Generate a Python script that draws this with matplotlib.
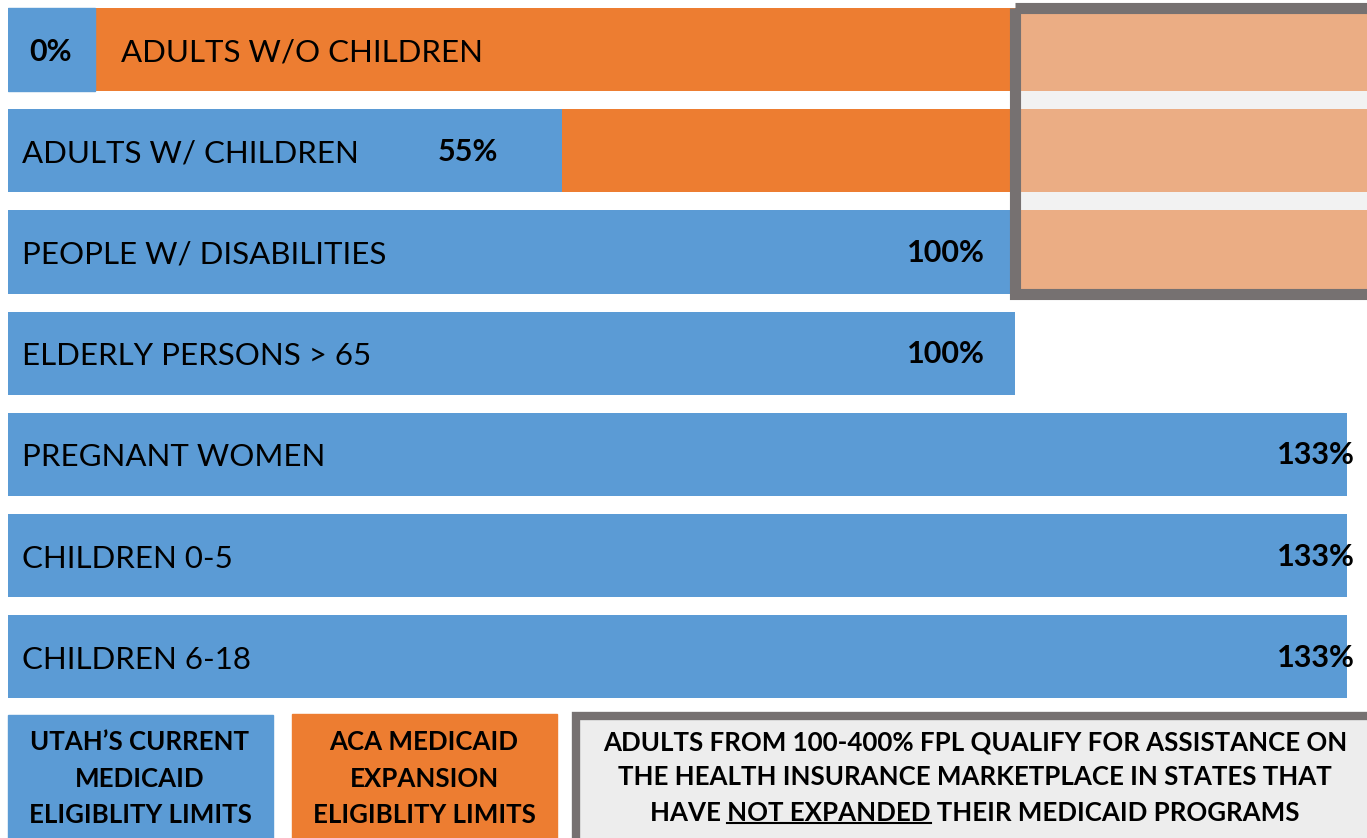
import matplotlib
matplotlib.use("Agg")
import matplotlib.pyplot as plt
from matplotlib.patches import Rectangle

# data
categories = ["ADULTS W/O CHILDREN", "ADULTS W/ CHILDREN", "PEOPLE W/ DISABILITIES",
              "ELDERLY PERSONS > 65", "PREGNANT WOMEN", "CHILDREN 0-5", "CHILDREN 6-18"]
utah_limits = [0, 55, 100, 100, 133, 133, 133]
aca_rows = [0, 1]
aca_limits = [133, 133]
market_rows = [0, 1, 2]
market_low = [100, 100, 100]
market_high = [400, 400, 400]

legend_utah = ["UTAH\u2019S CURRENT", "MEDICAID", "ELIGIBLITY LIMITS"]
legend_aca = ["ACA MEDICAID", "EXPANSION", "ELIGIBLITY LIMITS"]
legend_market = ["ADULTS FROM 100-400% FPL QUALIFY FOR ASSISTANCE ON",
                 "THE HEALTH INSURANCE MARKETPLACE IN STATES THAT",
                 "HAVE NOT EXPANDED THEIR MEDICAID PROGRAMS"]

BLUE = "#5B9BD5"
ORANGE = "#ED7D31"
LIGHT_ORANGE = "#EBAD84"
GREY = "#767171"
PALE = "#F2F2F2"

W, H = 1367, 838
plt.rcParams['font.family'] = ['Lato', 'DejaVu Sans']

fig = plt.figure(figsize=(W / 100, H / 100), dpi=100)
fig.patch.set_facecolor("white")

ax = fig.add_axes([8 / W, 0, 1 - 8 / W, 1])
ax.set_xlim(0, 135)
ax.set_ylim(7.788, -0.489)
ax.axis("off")

bar_h = 0.82
rows = list(range(len(categories)))

# ACA expansion bars (behind), then Utah's bars
ax.barh(aca_rows, aca_limits, height=bar_h, color=ORANGE, zorder=1)
ax.barh(rows, utah_limits, height=bar_h, color=BLUE, zorder=2)

# marketplace box
top = market_rows[0] - bar_h / 2
bottom = market_rows[-1] + bar_h / 2
ax.add_patch(Rectangle((market_low[0], top), 400, bottom - top,
                       facecolor=PALE, edgecolor="none", zorder=3))
ax.barh(market_rows, [h - l for l, h in zip(market_low, market_high)],
        left=market_low, height=bar_h, color=LIGHT_ORANGE, zorder=4)
ax.add_patch(Rectangle((market_low[0], top), 400, bottom - top,
                       facecolor="none", edgecolor=GREY, linewidth=8, zorder=5))

# labels
CAT_FS = 22.5
VAL_FS = 22
for i, (cat, v) in enumerate(zip(categories, utah_limits)):
    if v == 0:
        ax.add_patch(Rectangle((0, i - bar_h / 2), 8.6, bar_h, color=BLUE, zorder=2))
        ax.annotate("%d%%" % v, (0, i), xytext=(43, -2), textcoords="offset pixels",
                    ha="center", va="center", fontsize=VAL_FS, fontweight="bold",
                    zorder=6)
        ax.annotate(cat, (0, i), xytext=(113, -3), textcoords="offset pixels",
                    ha="left", va="center", fontsize=CAT_FS, zorder=6)
        continue
    ax.annotate(cat, (0, i), xytext=(14, -3), textcoords="offset pixels",
                ha="left", va="center", fontsize=CAT_FS, zorder=6)
    if v == 55:
        off = -64
    elif v == 100:
        off = -30
    else:
        off = 8
    ax.annotate("%d%%" % v, (v, i), xytext=(off, -1), textcoords="offset pixels",
                ha="right", va="center", fontsize=VAL_FS, fontweight="bold", zorder=6)

# legend boxes along the bottom, laid out in pixels
lax = fig.add_axes([0, 0, 1, 1], zorder=10)
lax.set_xlim(0, W)
lax.set_ylim(H, 0)
lax.axis("off")

lax.add_patch(Rectangle((8, 715), 265, 130, color=BLUE))
lax.add_patch(Rectangle((292, 714), 265, 130, color=ORANGE))
lax.add_patch(Rectangle((576, 716), 800, 130, facecolor="#EDEDED",
                        edgecolor=GREY, linewidth=6))

LEG_FS = 18.6
line_y = [742, 779, 815]
for s, y in zip(legend_utah, line_y):
    lax.text(140, y, s, ha="center", va="center", fontsize=LEG_FS, fontweight="bold")
for s, y in zip(legend_aca, line_y):
    lax.text(424, y, s, ha="center", va="center", fontsize=LEG_FS, fontweight="bold")
texts = []
for s, y in zip(legend_market, [742, 777, 813]):
    texts.append(lax.text(975, y, s, ha="center", va="center", fontsize=LEG_FS,
                          fontweight="bold"))

# underline "NOT EXPANDED"
fig.canvas.draw()
r = fig.canvas.get_renderer()
last = texts[-1]
bb = last.get_window_extent(r)


def width_of(s):
    t = lax.text(0, 0, s, fontsize=LEG_FS, fontweight="bold")
    w = t.get_window_extent(r).width
    t.remove()
    return w


x_end = bb.x0 + width_of("HAVE NOT EXPANDED")
x_start = x_end - width_of("NOT EXPANDED")
y_line = H - (bb.y0 + 2)
lax.plot([x_start, x_end], [y_line, y_line], color="black", linewidth=1.5)

fig.savefig("out.png", dpi=100)
